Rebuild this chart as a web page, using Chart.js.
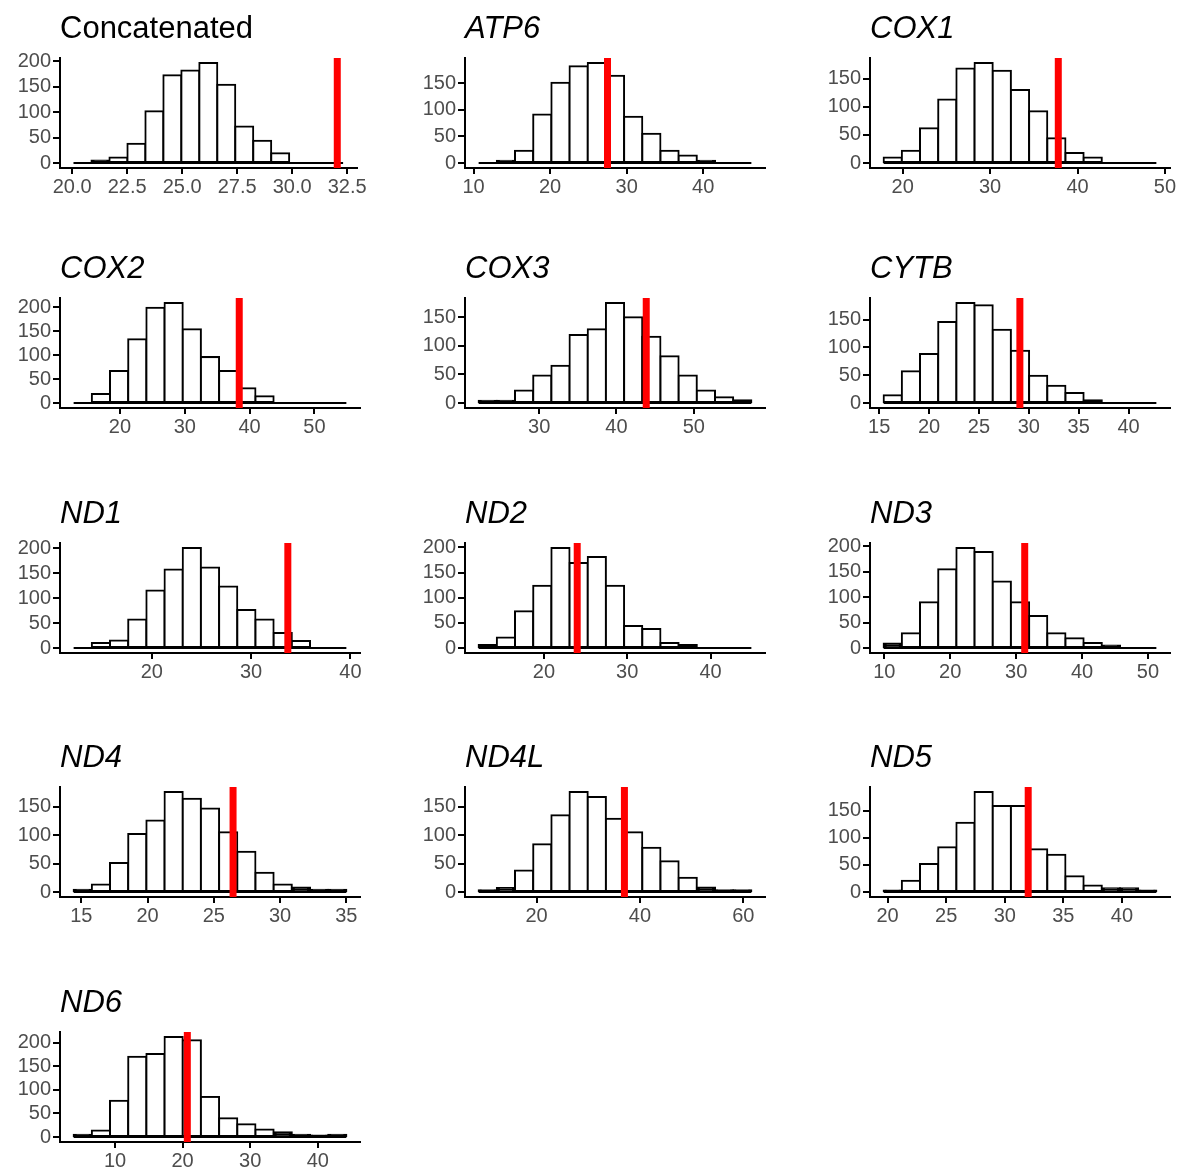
<!DOCTYPE html>
<html lang="en">
<head>
  <meta charset="UTF-8" />
  <title>Null distributions per gene</title>
  <script src="https://cdn.jsdelivr.net/npm/chart.js"></script>
  <style>
    body {
      margin: 0;
      background: #fff;
      font-family: 'Liberation Sans', Arial, sans-serif;
    }
    #wrap {
      position: relative;
      width: 1178px;
      height: 1170px;
    }
    #wrap canvas {
      position: absolute;
    }
  </style>
</head>
<body>
  <div id="wrap"></div>
  <script>
    // panel titles, in reading order (3 per row)
    const genes = ['Concatenated', 'ATP6', 'COX1', 'COX2', 'COX3', 'CYTB',
                   'ND1', 'ND2', 'ND3', 'ND4', 'ND4L', 'ND5', 'ND6'];

    // observed value (red line) for each gene
    const observed = [32.05, 27.5, 37.8, 38.4, 43.85, 29.1, 33.7, 24.0, 31.3, 26.45, 37.0, 32.0, 20.7];

    // histogram bins: lower edge of first bin and bin width (15 bins each)
    const binStart = [20.06, 10.66, 17.82, 12.86, 22.16, 15.44, 12.13, 12.17, 9.9, 14.42, 8.8, 19.66, 3.88];
    const binWidth = [0.817, 2.376, 2.08, 2.804, 2.353, 1.823, 1.831, 2.182, 2.758, 1.372, 3.517, 1.552, 2.69];

    // counts per bin
    const cConcatenated = [0, 5, 11, 38, 102, 173, 182, 197, 154, 72, 44, 19, 0, 0, 0];
    const cATP6 = [0, 4, 23, 91, 151, 182, 188, 164, 87, 55, 23, 14, 4, 0, 0];
    const cCOX1 = [10, 22, 62, 113, 168, 178, 164, 130, 92, 44, 18, 10, 0, 0, 0];
    const cCOX2 = [0, 19, 67, 133, 199, 209, 154, 96, 67, 31, 14, 0, 0, 0, 0];
    const cCOX3 = [4, 4, 22, 48, 65, 119, 129, 175, 150, 116, 82, 48, 22, 10, 5];
    const cCYTB = [14, 57, 88, 146, 180, 176, 132, 94, 49, 31, 18, 5, 0, 0, 0];
    const cND1 = [0, 10, 15, 57, 115, 157, 200, 161, 123, 76, 57, 30, 14, 0, 0];
    const cND2 = [6, 21, 73, 124, 199, 169, 181, 124, 44, 38, 10, 6, 0, 0, 0];
    const cND3 = [9, 29, 90, 155, 197, 189, 131, 90, 63, 29, 19, 10, 5, 0, 0];
    const cND4 = [4, 13, 51, 102, 126, 176, 164, 147, 105, 71, 34, 13, 8, 4, 4];
    const cND4L = [3, 7, 38, 84, 135, 176, 167, 129, 105, 78, 54, 25, 8, 3, 3];
    const cND5 = [3, 21, 52, 83, 128, 185, 159, 159, 79, 69, 29, 12, 7, 7, 3];
    const cND6 = [5, 14, 77, 170, 176, 212, 205, 85, 40, 27, 16, 10, 5, 3, 5];
    const counts = [cConcatenated, cATP6, cCOX1, cCOX2, cCOX3, cCYTB,
                    cND1, cND2, cND3, cND4, cND4L, cND5, cND6];

    // x tick labels per panel
    const xTickLabels = [
      ['20.0', '22.5', '25.0', '27.5', '30.0', '32.5'],
      ['10', '20', '30', '40'],
      ['20', '30', '40', '50'],
      ['20', '30', '40', '50'],
      ['30', '40', '50'],
      ['15', '20', '25', '30', '35', '40'],
      ['20', '30', '40'],
      ['20', '30', '40'],
      ['10', '20', '30', '40', '50'],
      ['15', '20', '25', '30', '35'],
      ['20', '40', '60'],
      ['20', '25', '30', '35', '40'],
      ['10', '20', '30', '40']
    ];
    // y tick labels shared by all panels (only those inside the range show)
    const yTickLabels = ['0', '50', '100', '150', '200'];

    // page layout
    const colLeft = [0, 405, 810];
    const rowPlotTop = [58, 298, 543, 787, 1032];
    const titleH = 50, plotH = 110, xAxisH = 36, yAxisW = 60, plotW = 300;
    const canvasW = 368, canvasH = titleH + plotH + xAxisH;

    const tickFont = { family: "'Liberation Sans', Arial, sans-serif", size: 20 };
    const tickColor = '#4d4d4d';

    const wrap = document.getElementById('wrap');

    // very short bars look solid black in the original (outlines overlap)
    function barFill(ctx) {
      const y = ctx.chart.scales.y;
      const v = ctx.raw ? ctx.raw.y : 0;
      const h = y.getPixelForValue(0) - y.getPixelForValue(v);
      return h < 5 ? '#000' : '#fff';
    }

    genes.forEach((gene, i) => {
      const row = Math.floor(i / 3), col = i % 3;
      const canvas = document.createElement('canvas');
      canvas.width = canvasW;
      canvas.height = canvasH;
      canvas.style.left = colLeft[col] + 'px';
      canvas.style.top = (rowPlotTop[row] - titleH) + 'px';
      canvas.style.width = canvasW + 'px';
      canvas.style.height = canvasH + 'px';
      wrap.appendChild(canvas);

      const vals = counts[i];
      const start = binStart[i];
      const w = binWidth[i];
      const end = start + w * vals.length;
      const lo = Math.min(start, observed[i]);
      const hi = Math.max(end, observed[i]);
      const xPad = (hi - lo) * 0.05;
      const maxCount = Math.max(...vals);
      const yMin = -0.05 * maxCount;
      const yMax = 1.05 * maxCount;

      const bars = vals.map((c, k) => ({ x: start + (k + 0.5) * w, y: c }));
      const xTicks = xTickLabels[i].map(Number);
      const yTicks = yTickLabels.map(Number);

      new Chart(canvas, {
        type: 'bar',
        data: {
          datasets: [
            {
              type: 'line',
              data: [{ x: observed[i], y: yMin }, { x: observed[i], y: yMax }],
              borderColor: '#ff0000',
              borderWidth: 7,
              pointRadius: 0,
              order: 0
            },
            {
              type: 'line',
              data: [{ x: start, y: 0 }, { x: end, y: 0 }],
              borderColor: '#000',
              borderWidth: 2,
              pointRadius: 0,
              order: 1
            },
            {
              type: 'bar',
              data: bars,
              backgroundColor: barFill,
              borderColor: '#000',
              borderWidth: 2,
              borderSkipped: false,
              inflateAmount: 1,
              barPercentage: 1,
              categoryPercentage: 1,
              order: 2
            }
          ]
        },
        options: {
          responsive: false,
          animation: false,
          events: [],
          layout: { padding: { left: 0, right: canvasW - yAxisW - plotW, top: 0, bottom: 0 } },
          plugins: {
            legend: { display: false },
            tooltip: { enabled: false },
            title: {
              display: true,
              text: gene,
              align: 'start',
              fullSize: false,
              color: '#000',
              padding: { top: 2.5, bottom: 10.3 },
              font: {
                family: "'Liberation Sans', Arial, sans-serif",
                size: 31,
                weight: 'normal',
                style: gene === 'Concatenated' ? 'normal' : 'italic'
              }
            }
          },
          scales: {
            x: {
              type: 'linear',
              offset: false,
              min: lo - xPad,
              max: hi + xPad,
              afterBuildTicks: s => {
                s.ticks = xTicks.filter(v => v >= s.min && v <= s.max).map(v => ({ value: v }));
              },
              afterFit: s => { s.height = xAxisH; },
              grid: { offset: false, drawOnChartArea: false, drawTicks: true, tickLength: 6, color: '#000', lineWidth: 2 },
              border: { display: true, color: '#000', width: 2 },
              ticks: {
                font: tickFont,
                color: tickColor,
                padding: 1,
                maxRotation: 0,
                autoSkip: false,
                callback: v => xTickLabels[i][xTicks.indexOf(v)]
              }
            },
            y: {
              min: yMin,
              max: yMax,
              afterBuildTicks: s => {
                s.ticks = yTicks.filter(v => v <= s.max).map(v => ({ value: v }));
              },
              afterFit: s => { s.width = yAxisW; },
              grid: { drawOnChartArea: false, drawTicks: true, tickLength: 7, color: '#000', lineWidth: 2 },
              border: { display: true, color: '#000', width: 2 },
              ticks: {
                font: tickFont,
                color: tickColor,
                padding: 2,
                autoSkip: false,
                callback: v => yTickLabels[yTicks.indexOf(v)]
              }
            }
          }
        }
      });
    });
  </script>
</body>
</html>
